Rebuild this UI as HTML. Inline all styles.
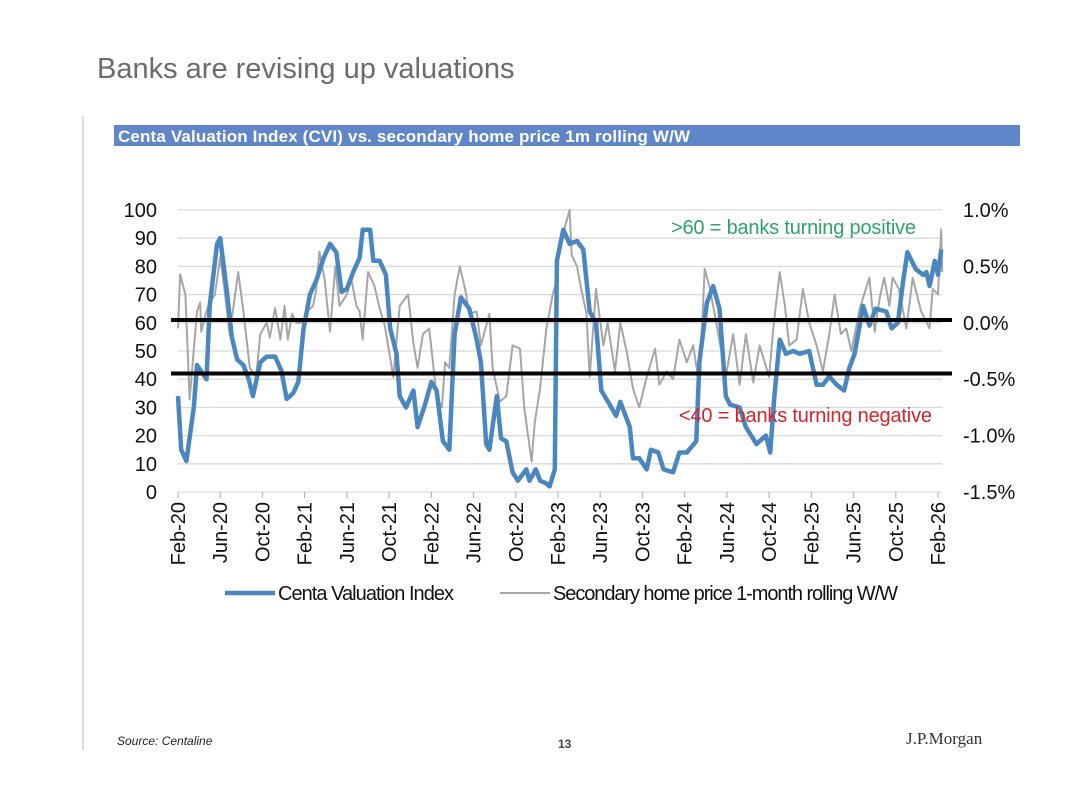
<!DOCTYPE html>
<html><head><meta charset="utf-8"><style>
html,body{margin:0;padding:0;background:#fff;}
svg{display:block;font-family:"Liberation Sans",Arial,sans-serif;}
</style></head><body>
<svg id="page" width="1080" height="788" viewBox="0 0 1080 788">
<text x="97" y="78" font-size="29" fill="#6b6b6b">Banks are revising up valuations</text>
<line x1="83" y1="116" x2="83" y2="750" stroke="#cfcfcf" stroke-width="1.5"/>
<rect x="114" y="125" width="906" height="21" fill="#5f86c9"/>
<text x="118" y="142" font-size="17" font-weight="bold" fill="#fff" textLength="572">Centa Valuation Index (CVI) vs. secondary home price 1m rolling W/W</text>
<g id="chart"></g>
<text x="117" y="745" font-size="12" font-style="italic" fill="#222">Source: Centaline</text>
<text x="558" y="748" font-size="12" font-weight="bold" fill="#444">13</text>
<text x="906" y="744" font-size="17" font-family="'Liberation Serif',serif" fill="#333">J.P.Morgan</text>
</svg>
<script>
const leftTicks = [0,10,20,30,40,50,60,70,80,90,100];
const rightTicks = ["1.0%","0.5%","0.0%","-0.5%","-1.0%","-1.5%"];
const rightTickValues = [1.0,0.5,0.0,-0.5,-1.0,-1.5];
const xTickLabels = ["Feb-20","Jun-20","Oct-20","Feb-21","Jun-21","Oct-21","Feb-22","Jun-22","Oct-22","Feb-23","Jun-23","Oct-23","Feb-24","Jun-24","Oct-24","Feb-25","Jun-25","Oct-25","Feb-26"];
const xTickMonths = [0,4,8,12,16,20,24,28,32,36,40,44,48,52,56,60,64,68,72];
const thresholdValues = [61,42];
const cviMonths = [0,0.3,0.8,1.5,1.8,2.7,3.0,3.7,4.0,4.6,5.1,5.6,6.2,6.7,7.1,7.8,8.4,9.2,9.8,10.3,10.9,11.4,11.9,12.5,13.1,13.8,14.4,15.0,15.5,16.0,16.6,17.2,17.5,18.2,18.5,19.1,19.7,20.1,20.7,21.0,21.6,22.3,22.7,23.4,24.0,24.5,25.1,25.7,26.2,26.8,27.6,28.3,28.7,29.2,29.5,30.2,30.6,31.1,31.7,32.2,33.0,33.3,33.9,34.3,34.9,35.2,35.7,35.9,36.5,37.1,37.8,38.4,39.0,39.6,40.1,40.9,41.5,41.9,42.8,43.1,43.7,44.4,44.8,45.5,46.0,46.9,47.5,48.2,49.1,49.4,50.1,50.7,51.3,51.9,52.3,53.2,53.8,54.8,55.7,56.1,56.5,57.0,57.6,58.3,58.9,59.8,60.5,61.1,61.7,62.4,63.1,63.6,64.1,64.9,65.5,66.1,67.1,67.6,68.2,68.7,69.1,69.9,70.6,70.9,71.2,71.7,72.0,72.3];
const cviValues = [34,15,11,30,45,40,66,88,90,72,55,47,45,40,34,46,48,48,43,33,35,39,58,70,75,83,88,85,71,72,78,83,93,93,82,82,77,58,49,34,30,36,23,31,39,36,18,15,56,69,65,54,46,17,15,34,19,18,7,4,8,4,8,4,3,2,8,82,93,88,89,86,64,60,36,31,27,32,23,12,12,8,15,14,8,7,14,14,18,46,67,73,65,34,31,30,23,17,20,14,34,54,49,50,49,50,38,38,41,38,36,44,49,66,59,65,64,58,60,75,85,79,77,78,73,82,77,86];
const hpMonths = [0,0.2,0.7,1.1,1.8,2.1,2.2,2.7,3.0,3.5,4.0,4.4,4.9,5.7,6.2,6.8,7.4,7.8,8.4,8.7,9.2,9.7,10.1,10.4,10.8,11.2,11.9,12.2,12.8,13.1,13.4,13.9,14.4,14.9,15.3,16.0,16.4,16.9,17.2,17.5,18.0,18.6,19.1,19.6,20.4,21.0,21.8,22.3,22.7,23.2,23.8,24.5,25.0,25.3,25.7,26.2,26.7,27.2,27.6,28.3,28.7,29.5,29.8,30.5,31.1,31.7,32.4,32.8,33.5,33.8,34.3,34.9,35.5,35.9,36.2,36.6,37.1,37.3,37.8,38.2,38.7,39.0,39.6,40.3,40.7,41.4,41.9,42.5,43.1,43.7,44.4,45.2,45.6,46.3,46.9,47.5,48.2,48.8,49.4,49.9,50.4,51.0,51.9,52.6,53.2,53.8,54.5,55.1,56.0,56.4,57.0,57.5,57.9,58.6,59.2,59.8,60.5,61.1,61.7,62.2,62.8,63.3,63.8,64.6,65.0,65.5,66.0,66.5,66.9,67.4,67.7,68.3,69.0,69.6,70.4,71.2,71.5,72.0,72.3,72.4];
const hpValues = [-0.05,0.43,0.25,-0.68,0.10,0.18,-0.08,0.10,0.18,0.25,0.58,0.30,-0.10,0.45,0.10,-0.40,-0.48,-0.10,0.00,-0.13,0.13,-0.15,0.15,-0.15,0.08,0.00,0.00,0.10,0.15,0.30,0.63,0.38,-0.08,0.50,0.15,0.25,0.40,0.15,0.10,-0.15,0.45,0.33,0.13,-0.03,-0.48,0.15,0.25,-0.18,-0.40,-0.10,-0.05,-0.65,-0.75,-0.35,-0.40,0.25,0.50,0.30,0.08,0.10,-0.20,0.08,-0.40,-0.70,-0.65,-0.20,-0.23,-0.75,-1.23,-0.88,-0.58,-0.05,0.25,0.38,0.75,0.83,1.00,0.60,0.50,0.30,0.08,-0.48,0.30,-0.20,0.00,-0.43,0.00,-0.25,-0.58,-0.75,-0.48,-0.23,-0.55,-0.43,-0.50,-0.15,-0.35,-0.20,-0.55,0.48,0.30,0.00,-0.48,-0.10,-0.55,-0.10,-0.53,-0.20,-0.48,-0.05,0.45,0.15,-0.20,-0.15,0.30,0.00,-0.20,-0.43,-0.10,0.25,-0.10,-0.05,-0.25,0.13,0.25,0.40,-0.08,0.23,0.40,0.15,0.40,0.30,-0.05,0.40,0.10,-0.05,0.30,0.25,0.83,0.45];

const NS="http://www.w3.org/2000/svg";
const g=document.getElementById('chart');
const X0=178,X1=938,Y0=492,Y1=210;
const xScale=m=>X0+(m/72)*(X1-X0);
const yLeft=v=>Y0-(v/100)*(Y0-Y1);
const yRight=p=>Y0-((p+1.5)/2.5)*(Y0-Y1);
function mk(tag,attrs){const e=document.createElementNS(NS,tag);for(const k in attrs)e.setAttribute(k,attrs[k]);g.appendChild(e);return e;}

leftTicks.forEach(v=>{
  const l=mk('line',{x1:X0,x2:X1+4,y1:yLeft(v),y2:yLeft(v),stroke:'#d9d9d9','stroke-width':1.3});
  
  
  const t=mk('text',{x:157,y:yLeft(v)+7,'font-size':20,'text-anchor':'end',fill:'#111'});
  t.textContent=v;
  
  
});
rightTicks.forEach((lab,i)=>{
  const t=mk('text',{x:963,y:yRight(rightTickValues[i])+7,'font-size':20,fill:'#111'});
  t.textContent=lab;
  
  
});
xTickMonths.forEach((m,i)=>{
  const x=xScale(m);
  const tk=mk('line',{x1:x,x2:x,y1:Y0,y2:Y0+6,stroke:'#bbb','stroke-width':1.3});
  
  
  const t=mk('text',{x:0,y:0,'font-size':20,'text-anchor':'end',fill:'#111',transform:`translate(${x+7},${502}) rotate(-90)`});
  t.textContent=xTickLabels[i];
  
  
});
function pathFrom(xs,ys,yf){return xs.map((m,i)=>(i?'L':'M')+xScale(m).toFixed(1)+','+yf(ys[i]).toFixed(1)).join('');}
const hp=mk('path',{d:pathFrom(hpMonths,hpValues,yRight),fill:'none',stroke:'#a6a6a6','stroke-width':2,'stroke-linejoin':'round'});


const cvi=mk('path',{d:pathFrom(cviMonths,cviValues,yLeft),fill:'none',stroke:'#4a86c0','stroke-width':4.5,'stroke-linejoin':'round'});


thresholdValues.forEach(v=>{
  const l=mk('line',{x1:171,x2:952,y1:yLeft(v),y2:yLeft(v),stroke:'#000','stroke-width':4});
  
  
});
const a1=mk('text',{x:671,y:234,'font-size':20,fill:'#2ea36a',textLength:245});
a1.textContent='>60 = banks turning  positive';


const a2=mk('text',{x:679,y:422,'font-size':20,fill:'#d8232a',textLength:253});
a2.textContent='<40 = banks turning  negative';


const lg1=mk('line',{x1:225,x2:275,y1:593,y2:593,stroke:'#4a86c0','stroke-width':4.5});


const lt1=mk('text',{x:278,y:600,'font-size':20,fill:'#111',textLength:176});
lt1.textContent='Centa Valuation Index';


const lg2=mk('line',{x1:500,x2:550,y1:593,y2:593,stroke:'#a6a6a6','stroke-width':2});


const lt2=mk('text',{x:553,y:600,'font-size':20,fill:'#111',textLength:345});
lt2.textContent='Secondary home price 1-month rolling W/W';


</script>
</body></html>
